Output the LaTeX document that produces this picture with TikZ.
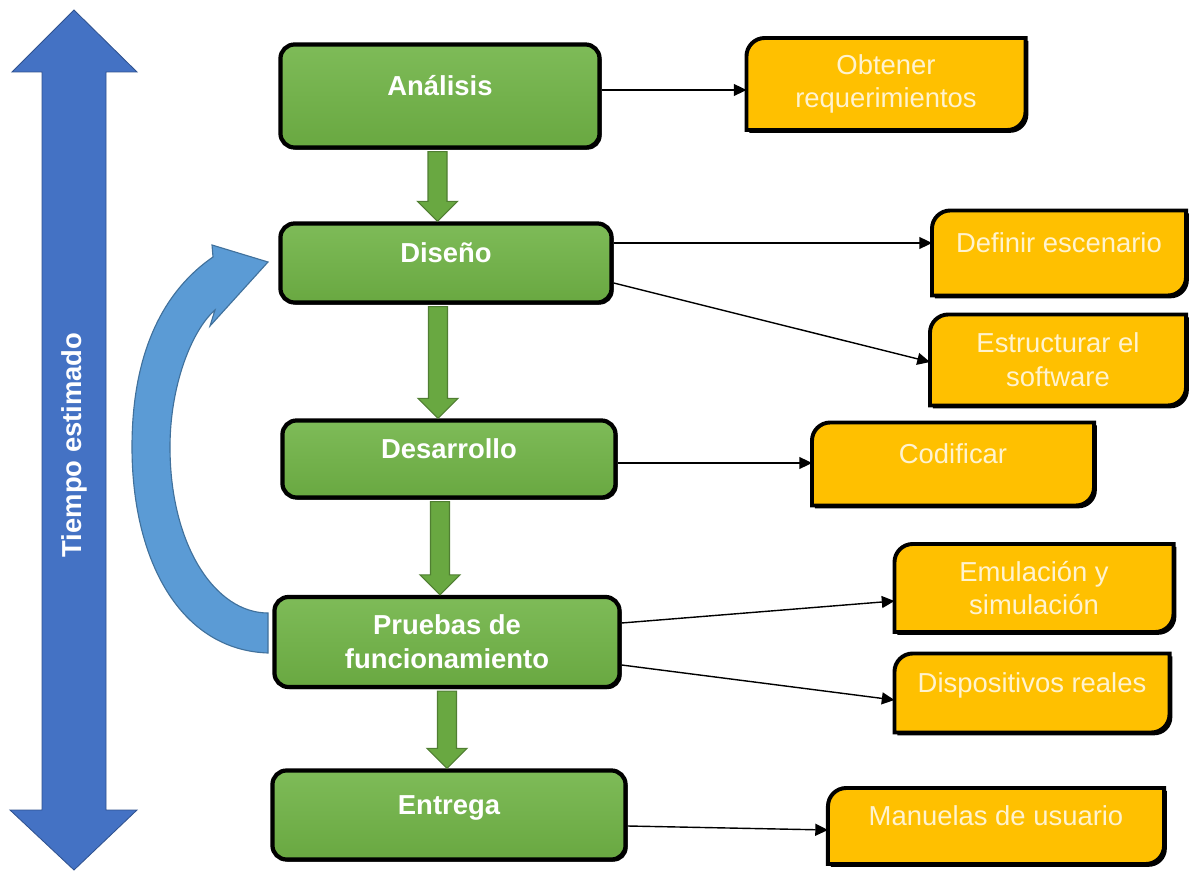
\documentclass[tikz,border=0pt]{standalone}
\usepackage{fontspec}
\setmainfont{Liberation Sans}
\usetikzlibrary{arrows.meta,calc,shadows,backgrounds}
\definecolor{verde}{HTML}{69A841}
\definecolor{verdeclaro}{HTML}{7EBB58}
\definecolor{verdeborde}{HTML}{507E32}
\definecolor{naranja}{HTML}{FFC000}
\definecolor{crema}{HTML}{FFF3CF}
\definecolor{azul}{HTML}{4472C4}
\definecolor{azulborde}{HTML}{2F528F}
\definecolor{celeste}{HTML}{5B9BD5}
\definecolor{celesteborde}{HTML}{41719C}
% flecha de bloque verde entre dos fases: origen, destino, x del eje
\newcommand{\bajada}[3]{%
  \filldraw[flecha_style] ($(#3,0 |- #1.south)+(-9.5,2)$) -- ($(#3,0 |- #2.north)+(-9.5,-20)$)
    -- ($(#3,0 |- #2.north)+(-20,-20)$) -- (#3,0 |- #2.north) -- ($(#3,0 |- #2.north)+(20,-20)$)
    -- ($(#3,0 |- #2.north)+(9.5,-20)$) -- ($(#3,0 |- #1.south)+(9.5,2)$) -- cycle;}
\begin{document}
\begin{tikzpicture}[x=0.025cm,y=-0.025cm,
           fase_style/.style={rectangle,rounded corners=10pt,draw=black,line width=3pt,
             top color=verdeclaro,bottom color=verde,text=white,align=center,
             font=\bfseries\fontsize{19.5}{24}\selectfont,
             drop shadow={shadow xshift=1.5pt,shadow yshift=-1.5pt,fill=black,opacity=1}},
           tarea_style/.style={rectangle,draw=none,outer sep=0pt,text=crema,align=center,
             font=\fontsize{19.5}{24}\selectfont},
           tarea_fondo/.style={fill=naranja,draw=black,line width=2.8pt,
             drop shadow={shadow xshift=2pt,shadow yshift=-2pt,fill=black,opacity=1}},
           arriba/.style={text height=14pt,text depth=15pt},
           flecha_style/.style={fill=verde,draw=verdeborde,line width=0.8pt},
           edge_style/.style={draw=black,line width=1pt,-{Triangle[length=9pt,width=8.5pt]}}]
            \useasboundingbox (0,0) rectangle (1190,872);
            % flecha doble del tiempo
            \filldraw[fill=azul,draw=azulborde,line width=0.6pt] (74,10) -- (137,72) -- (106,72)
              -- (106,810) -- (137,810) -- (74,870) -- (10,810) -- (42,810) -- (42,72) -- (12,72) -- cycle;
            \node[rotate=90,text=white,font=\bfseries\fontsize{19.5}{24}\selectfont] (tiempo) at (74,445) {Tiempo estimado};
            % flecha curva de retorno
            \filldraw[fill=celeste,draw=celesteborde,line width=0.8pt]
              (268,653) .. controls (180,650) and (132,560) .. (132,447)
              .. controls (132,350) and (165,290) .. (213,257)
              -- (212,245) -- (268,262) -- (210,326) -- (215,310)
              .. controls (192,330) and (170,385) .. (170,447)
              .. controls (170,545) and (215,613) .. (268,613) -- cycle;
            % fases
            \node[fase_style,arriba,minimum width=7.975cm,minimum height=2.575cm] (ana) at (440,96) {Análisis};
            \node[fase_style,arriba,minimum width=8.275cm,minimum height=1.975cm] (dis) at (446,263) {Diseño};
            \node[fase_style,arriba,minimum width=8.325cm,minimum height=1.925cm] (des) at (449,459) {Desarrollo};
            \node[fase_style,minimum width=8.625cm,minimum height=2.25cm] (pru) at (447,642) {Pruebas de\\funcionamiento};
            \node[fase_style,arriba,minimum width=8.825cm,minimum height=2.225cm] (ent) at (449,815) {Entrega};
            % tareas
            \node[tarea_style,minimum width=6.975cm,minimum height=2.3cm] (obt) at (886,84) {Obtener\\requerimientos};
            \node[tarea_style,arriba,minimum width=6.35cm,minimum height=2.125cm] (def) at (1059,253) {Definir escenario};
            \node[tarea_style,minimum width=6.4cm,minimum height=2.275cm] (est) at (1058,360) {Estructurar el\\software};
            \node[tarea_style,arriba,minimum width=7.05cm,minimum height=2.075cm] (cod) at (953,464) {Codificar};
            \node[tarea_style,minimum width=6.975cm,minimum height=2.2cm] (emu) at (1034,588) {Emulación y\\simulación};
            \node[tarea_style,arriba,minimum width=6.875cm,minimum height=1.975cm] (dsp) at (1032,693) {Dispositivos reales};
            \node[tarea_style,arriba,minimum width=8.4cm,minimum height=1.9cm] (man) at (996,826) {Manuelas de usuario};
            \begin{scope}[on background layer]
              \foreach \t in {obt,def,est,cod,emu,dsp,man}
                \filldraw[tarea_fondo] (\t.west) [rounded corners=13pt] -- (\t.north west) [sharp corners]
                  -- (\t.north east) [rounded corners=13pt] -- (\t.south east) [sharp corners]
                  -- (\t.south west) -- cycle;
            \end{scope}
            % flechas entre fases
            \bajada{ana}{dis}{437.5}
            \bajada{dis}{des}{438}
            \bajada{des}{pru}{440}
            \bajada{pru}{ent}{447}
            % conexiones con las tareas
            \draw[edge_style]  ($(ana.east)+(0,-6)$) -- ($(obt.west)+(0,6)$);
            \draw[edge_style]  ($(dis.east)+(0,-20)$) -- ($(def.west)+(0,-10)$);
            \draw[edge_style]  ($(dis.east)+(0,20)$) -- ($(est.west)+(0,2)$);
            \draw[edge_style]  ($(des.east)+(0,4)$) -- ($(cod.west)+(0,-1)$);
            \draw[edge_style]  ($(pru.east)+(0,-19)$) -- ($(emu.west)+(0,13)$);
            \draw[edge_style]  ($(pru.east)+(0,23)$) -- ($(dsp.west)+(0,7)$);
            \draw[edge_style]  ($(ent.east)+(0,11)$) -- ($(man.west)+(0,4)$);
        \end{tikzpicture}
\end{document}
